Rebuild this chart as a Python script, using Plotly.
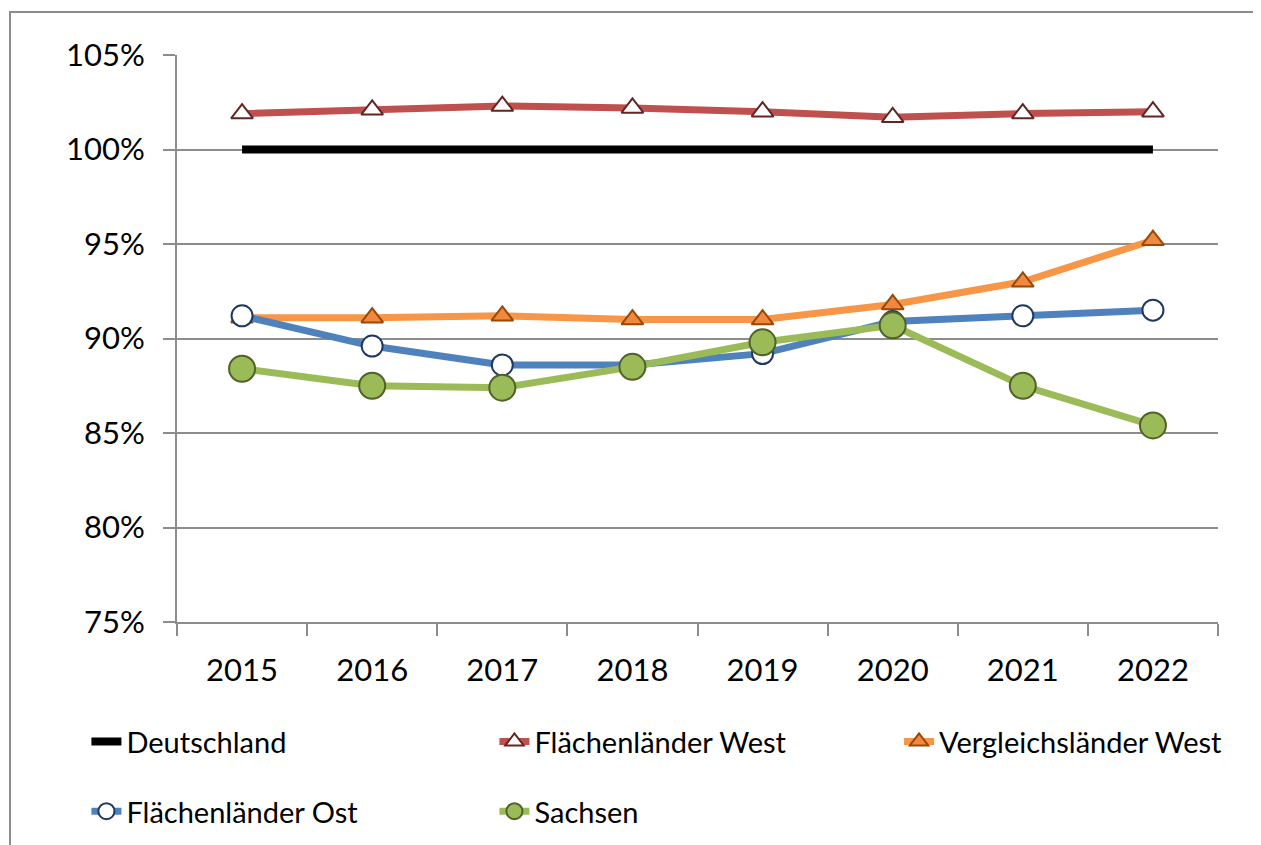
"""
Index chart of regional values relative to Germany (Deutschland = 100 %).
Excel-like styling: grey frame, grey gridlines, legend below the plot.
"""

import plotly.graph_objects as go

years = ["2015", "2016", "2017", "2018", "2019", "2020", "2021", "2022"]

deutschland = [100, 100, 100, 100, 100, 100, 100, 100]
flaechen_west = [101.9, 102.1, 102.3, 102.2, 102.0, 101.7, 101.9, 102.0]
vergleich_west = [91.1, 91.1, 91.2, 91.0, 91.0, 91.8, 93.0, 95.2]
flaechen_ost = [91.2, 89.6, 88.6, 88.6, 89.2, 90.9, 91.2, 91.5]
sachsen = [88.4, 87.5, 87.4, 88.5, 89.8, 90.7, 87.5, 85.4]

y_ticks = [75, 80, 85, 90, 95, 100, 105]
y_tick_labels = ["75%", "80%", "85%", "90%", "95%", "100%", "105%"]


def build_figure() -> go.Figure:
    font_family = "Lato, 'Open Sans', sans-serif"
    grid = "#8c8c8c"

    fig = go.Figure()

    # Deutschland reference line
    fig.add_trace(go.Scatter(
        x=years, y=deutschland,
        mode="lines",
        line=dict(color="#000000", width=8),
        name="Deutschland",
        legend="legend",
    ))

    fig.add_trace(go.Scatter(
        x=years, y=flaechen_west,
        mode="lines+markers",
        line=dict(color="#C0504D", width=7),
        marker=dict(symbol="triangle-up", size=19, color="#ffffff",
                    line=dict(color="#632523", width=2)),
        name="Flächenländer West",
        legend="legend",
    ))

    fig.add_trace(go.Scatter(
        x=years, y=vergleich_west,
        mode="lines+markers",
        line=dict(color="#F79646", width=7),
        marker=dict(symbol="triangle-up", size=19, color="#F0883E",
                    line=dict(color="#984807", width=2)),
        name="Vergleichsländer West",
        legend="legend3",
    ))

    fig.add_trace(go.Scatter(
        x=years, y=flaechen_ost,
        mode="lines+markers",
        line=dict(color="#4F81BD", width=7),
        marker=dict(symbol="circle", size=21, color="#ffffff",
                    line=dict(color="#1F3864", width=2)),
        name="Flächenländer Ost",
        legend="legend2",
    ))

    fig.add_trace(go.Scatter(
        x=years, y=sachsen,
        mode="lines+markers",
        line=dict(color="#9BBB59", width=7),
        marker=dict(symbol="circle", size=26, color="#9BBB59",
                    line=dict(color="#4F6228", width=2)),
        name="Sachsen",
        legend="legend2",
    ))

    legend_style = dict(
        orientation="h",
        xanchor="left",
        yanchor="middle",
        font=dict(size=29, color="#000000", family=font_family),
        entrywidth=363, entrywidthmode="pixels",
        bgcolor="rgba(0,0,0,0)",
        itemclick=False,
    )

    fig.update_layout(
        width=1253,
        height=845,
        paper_bgcolor="#ffffff",
        plot_bgcolor="#ffffff",
        margin=dict(l=169, r=43, t=47, b=231),  # room for the two legend rows
        font=dict(family=font_family, color="#000000", size=29),
        showlegend=True,
        legend=dict(legend_style, x=-0.087, y=-0.211),
        legend3=dict(legend_style, x=0.6936, y=-0.211, entrywidth=290),
        legend2=dict(legend_style, x=-0.087, y=-0.334),
        xaxis=dict(
            type="category",
            range=[-0.5, 7.5],
            showgrid=False,
            showline=True, linecolor=grid, linewidth=2,
            ticks="outside", tickson="boundaries",
            ticklen=12, tickwidth=2, tickcolor=grid,
            ticklabelstandoff=20,
            tickfont=dict(size=31),
        ),
        yaxis=dict(
            range=[75, 105],
            tickvals=y_ticks,
            ticktext=y_tick_labels,
            showgrid=True, gridcolor=grid, gridwidth=2,
            showline=True, linecolor=grid, linewidth=2,
            ticks="outside", ticklen=12, tickwidth=2, tickcolor=grid,
            ticklabelstandoff=12,
            tickfont=dict(size=31),
            zeroline=False,
        ),
        shapes=[dict(
            type="rect", xref="paper", yref="paper",
            x0=-0.1604, x1=1.0365, y0=-0.6, y1=1.0758,
            line=dict(color="#8c8c8c", width=2),
            fillcolor="rgba(0,0,0,0)",
            layer="below",
        )],
    )

    return fig


fig = build_figure()
fig.write_html("out.html")
